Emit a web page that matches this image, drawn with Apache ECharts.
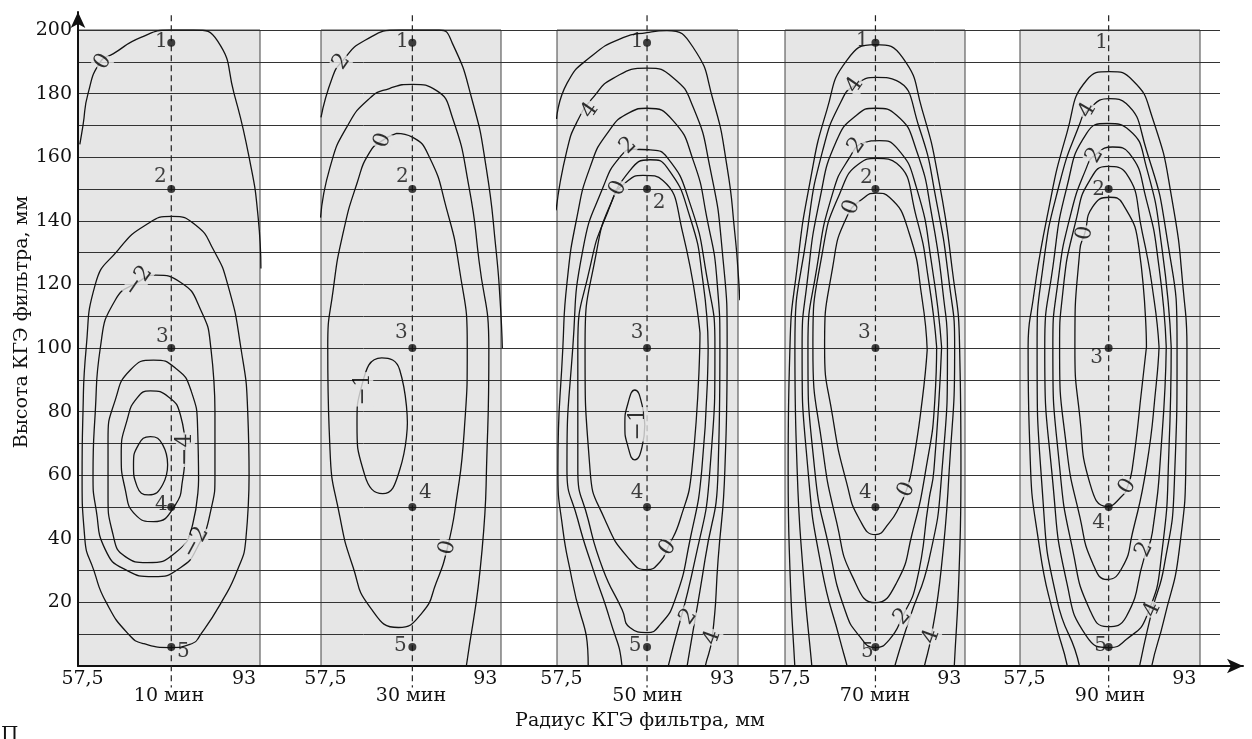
<!DOCTYPE html>
<html>
<head>
<meta charset="utf-8">
<script src="https://cdn.jsdelivr.net/npm/echarts@6.0.0/dist/echarts.min.js"></script>
<style>
html, body { margin: 0; padding: 0; background: #fff; }
#chart { width: 1252px; height: 739px; }
</style>
</head>
<body>
<div id="chart"></div>
<script>
var FONT = '"DejaVu Serif", "Liberation Serif", serif';
var INK = '#111';
var PANEL_FILL = '#e6e6e6';

// time of each panel
var panelTimes = ['10 мин', '30 мин', '50 мин', '70 мин', '90 мин'];
// radius ticks under each panel, mm
var radiusTicks = [57.5, 93];
// height ticks of the left axis, mm
var heightTicks = [20, 40, 60, 80, 100, 120, 140, 160, 180, 200];
// measuring points 1..5
var pointNames = ['1', '2', '3', '4', '5'];
var pointHeights = [196, 150, 100, 50, 6];
// radius of the measuring line in each panel, mm
var sampleRadius = [77.0, 76.8, 76.4, 76.6, 76.2];

// isolines, [radius, height]
var contours10 = [
  [[56.9,164],[57.6,170],[58.7,180],[61.4,190],[64.2,192.5],[70.2,197.6],[76.8,200],[81.9,200],[87.2,196.5],[90.8,180],[94.1,160],[96.1,141],[96.7,125]],
  [[94.1,60],[93.4,40],[91.5,30],[88.0,20],[83.5,10],[81.5,7],[76.8,5.8],[71.0,7],[67.6,10],[62.7,20],[60.0,30],[58.0,40],[57.4,60],[57.6,80],[58.3,100],[60.3,120],[65.3,130.8],[71.3,138.6],[77.1,141.4],[82.4,138.6],[86.3,130.8],[89.4,120],[92.3,100],[93.8,80],[94.1,60]],
  [[86.6,80],[86.6,60],[85.7,49],[82.8,37.5],[79.0,30.9],[73.1,28.1],[66.9,30.3],[62.5,36.6],[60.5,49],[59.8,60],[60.3,80],[61.4,100],[64.7,115.1],[69.8,120.8],[73.5,122.9],[79.0,120.7],[83.5,111.9],[85.7,100],[86.6,80]],
  [[83.0,58.6],[81.7,44.5],[77.9,35.6],[71.7,32.5],[66.9,34.4],[64.2,41.3],[63.1,53.8],[63.1,71.1],[64.7,83.7],[68.0,93.1],[73.1,96.2],[77.9,93.7],[81.3,86.8],[82.8,74.3],[83.0,58.6]],
  [[80.1,68],[79.5,58.6],[77.9,50.7],[73.1,45.4],[69.1,47.6],[66.9,55.4],[66.0,66.4],[67.3,77.4],[69.5,84.3],[72.4,86.5],[76.4,84.6],[79.0,79],[80.1,68]],
  [[76.2,63.3],[75.1,57],[72.0,53.8],[69.5,56.4],[68.7,63.3],[69.8,69.6],[72.4,72.1],[75.1,69.6],[76.2,63.3]]
];
var contours30 = [
  [[56.5,172.5],[59.0,185],[61.1,190],[66.2,196.7],[74.0,200],[82.8,200],[85.7,195.8],[90.1,177.9],[93.2,156.8],[95.4,130.8],[96.3,115],[96.8,100]],
  [[56.4,141],[58.5,156.8],[62.2,169.4],[67.3,178.5],[71.7,181.6],[76.8,182.9],[82.1,181],[85.7,172.5],[89.4,150.5],[91.6,127.6],[93.8,99.4],[93.4,68],[92.3,36.6],[88.8,0],[88.3,-3]],
  [[73.3,167.5],[76.8,166.3],[80.6,160],[84.3,144.3],[87.2,125.4],[89.0,100.3],[88.3,73.3],[86.6,52.3],[84.6,37.2],[82.1,26.2],[79.0,16.8],[73.7,12.1],[67.3,18.7],[63.6,31.2],[60.7,46.9],[58.5,68],[58.0,100.3],[59.2,118.2],[61.4,136.1],[64.5,151.8],[67.3,161.5],[70.2,165.3],[73.3,167.5]],
  [[75.7,76.5],[74.0,61.7],[70.2,54.2],[66.2,60.1],[64.5,76.5],[65.6,88.4],[70.0,96.9],[74.0,93.1],[75.7,76.5]]
];
var contours50 = [
  [[56.4,172],[58.7,183.2],[63.8,191.4],[71.1,197.6],[76.4,199.2],[80.8,199.8],[86.6,194.5],[91.0,177.9],[94.1,156.8],[95.8,136.1],[96.5,124.5],[96.9,115]],
  [[56.3,143.3],[58.7,162.2],[61.1,171.6],[64.5,178.8],[68.9,184.8],[76.4,188],[82.1,185.1],[86.6,175.7],[90.3,156.8],[93.0,130.8],[94.1,100.3],[93.6,61.7],[92.1,33.4],[90.8,9],[89.2,-0.5],[89.0,-3]],
  [[63.0,-3],[63.4,-0.5],[59.8,27.2],[57.8,42.9],[56.7,61.7],[57.8,100.3],[58.7,120.4],[60.9,141.1],[63.8,156.8],[67.6,167.5],[72.6,174.1],[76.4,175.4],[82.1,171.6],[86.6,159],[89.6,141.1],[91.9,120.4],[92.5,100.3],[92.1,61.7],[89.2,33.4],[85.2,-0.5],[85.0,-3]],
  [[71.0,-3],[70.9,-0.5],[68.2,14.6],[64.5,30.3],[61.1,46],[58.7,61.7],[60.0,100.3],[62.2,130.8],[66.7,150.6],[70.4,160],[73.5,162.5],[77.1,162.3],[80.8,160],[85.9,145.4],[89.6,122.5],[91.4,100.3],[90.3,61.7],[87.0,33.4],[81.0,-0.5],[80.7,-3]],
  [[89.9,100.3],[88.5,61.7],[85.9,39.7],[82.6,20.9],[79.3,13],[76.4,10.5],[72.6,12.1],[70.9,17.7],[66.7,30.3],[63.4,46],[61.1,61.7],[61.1,100.3],[63.8,125.4],[67.6,142.4],[72.6,155.8],[77.1,159.2],[80.8,156.8],[85.9,141.1],[88.8,120.4],[89.9,100.3]],
  [[88.1,104.7],[86.3,61.7],[83.7,46],[81.0,37.2],[79.3,32.8],[76.4,30.3],[72.6,33.4],[67.1,46],[63.8,61.7],[62.7,100.3],[65.3,130.8],[68.7,146.5],[71.5,151.8],[75.5,154.3],[79.9,152.7],[84.3,136.1],[88.1,104.7]],
  [[75.9,75.8],[75.3,68.9],[73.7,64.8],[72.2,68.9],[71.5,75.8],[72.2,82.7],[73.7,86.8],[75.3,82.1],[75.9,75.8]]
];
var contours70 = [
  [[58.9,-3],[58.7,-0.5],[57.6,30.3],[57.2,61.7],[57.6,100.3],[59.2,125.4],[62.0,151.8],[65.8,174.8],[70.2,190.4],[76.6,195.4],[82.6,191.4],[87.0,174.8],[90.8,151.8],[93.6,125.4],[95.3,100.3],[95.6,61.7],[95.2,30.3],[94.1,-0.5],[94.0,-3]],
  [[62.7,-3],[62.5,-0.5],[60.5,30.3],[59.2,61.7],[58.7,100.3],[61.4,136.1],[64.9,162.2],[69.1,177.9],[72.0,182.6],[76.8,185.1],[81.3,184.1],[86.3,169.4],[90.1,146.5],[93.0,120.4],[94.2,100.3],[93.0,61.7],[91.2,30.3],[89.0,9.3],[87.4,-0.5],[87.0,-3]],
  [[70.8,-3],[70.4,-0.5],[68.7,8.3],[64.7,30.3],[61.6,61.7],[60.3,100.3],[61.4,120.4],[64.2,146.5],[68.0,165.3],[72.4,173.2],[76.6,175.4],[81.3,173.2],[85.7,162.2],[89.2,141.1],[91.8,115.1],[92.6,100.3],[91.4,61.7],[88.5,33.4],[84.1,14.6],[80.8,-0.5],[80.5,-3]],
  [[91.3,100.3],[89.6,61.7],[88.5,52.3],[85.7,26.2],[82.6,15.5],[79.7,8.3],[76.6,5.8],[73.1,9.3],[69.8,17.7],[66.4,36.6],[63.1,61.7],[61.6,100.3],[63.6,125.4],[67.1,148.7],[70.9,160],[74.0,164.5],[77.5,165.2],[81.3,163],[85.7,150.5],[89.2,125.4],[91.3,100.3]],
  [[90.2,100.3],[89.8,83.7],[87.9,62.6],[84.8,41.9],[81.3,26.2],[76.6,19.9],[71.5,28.1],[68.0,45.1],[64.9,68],[62.7,100.3],[64.9,130.8],[68.7,148.7],[73.1,158.1],[76.8,159.6],[81.3,158.1],[85.7,141.1],[88.5,120.4],[90.2,100.3]],
  [[88.1,99.4],[87.0,83.7],[84.8,62.6],[83.5,55.4],[81.9,50.1],[79.7,45.1],[76.6,41.3],[73.1,46],[70.2,57.6],[67.1,78.3],[65.3,100.3],[67.1,125.4],[70.2,141.1],[74.2,147.4],[76.8,148.7],[79.7,147.4],[84.1,136.1],[87.0,115.1],[88.1,99.4]]
];
var contours90 = [
  [[67.3,-3],[67.1,-0.5],[64.2,14.6],[60.9,36.6],[58.7,68],[58.3,100.3],[59.4,115.1],[62.5,141.1],[66.9,167.5],[71.3,184.2],[76.4,186.9],[81.5,184.2],[85.9,172.5],[90.3,146.5],[93.0,115.1],[93.6,100.3],[93.4,68],[91.9,36.6],[88.5,14.6],[85.7,-0.5],[85.5,-3]],
  [[70.0,-3],[69.8,-0.5],[64.7,20.9],[61.6,52.3],[60.3,100.3],[61.6,125.4],[65.3,151.8],[69.8,170.6],[71.5,174.7],[76.4,178.4],[80.1,176.9],[84.6,162.2],[89.0,136.1],[91.4,100.3],[90.8,57.6],[88.5,31.2],[85.9,17.7],[83.0,-0.5],[82.8,-3]],
  [[90.1,100.3],[89.6,68],[88.1,36.6],[84.6,15.5],[80.1,8.3],[76.4,5.8],[71.3,9.3],[66.9,26.2],[63.8,57.6],[62.0,100.3],[63.8,125.4],[66.9,150.5],[71.3,167.5],[75.9,170.6],[80.8,168.5],[84.6,156.8],[88.1,130.8],[90.1,100.3]],
  [[89.0,100.3],[88.1,73.3],[85.9,41.9],[84.1,34],[80.1,15.5],[75.9,12.4],[72.0,17.7],[68.2,36.6],[65.3,62.6],[63.8,100.3],[64.9,120.4],[67.6,141.1],[71.3,156.8],[73.1,160.6],[77.1,163.2],[80.8,161.2],[84.6,146.5],[87.4,125.4],[89.0,100.3]],
  [[87.4,100.3],[86.8,89],[84.6,62.6],[81.5,41.9],[79.3,31.2],[75.9,27.2],[72.6,32.5],[69.8,46.9],[66.9,68],[65.3,100.3],[66.0,117.3],[69.1,141.1],[72.0,152.7],[75.9,157.1],[80.1,154.9],[83.7,136.1],[86.3,115.1],[87.4,100.3]],
  [[84.6,100.3],[83.7,89],[81.5,62.6],[80.4,56.4],[79.0,53.2],[75.9,50.2],[72.0,57.6],[69.8,78.3],[68.7,100.3],[69.8,130.8],[70.9,136.1],[72.6,144.3],[76.4,147.4],[79.3,145.4],[83.0,130.8],[84.6,100.3]]
];

// isoline values written on the curves: [text, radius, height]
var labels10 = [['0', 62.0, 190], ['\u22122', 69.8, 121], ['\u22124', 80.1, 68], ['\u22122', 82.4, 38.8]];
var labels30 = [['2', 61.1, 190], ['0', 70.2, 165.3], ['\u22121', 66.0, 87], ['0', 84.6, 37.2]];
var labels50 = [['4', 63.8, 174.7], ['2', 72.2, 163.7], ['0', 70.0, 150.2], ['\u22121', 74.5, 76], ['0', 81.0, 37.2], ['2', 85.5, 15.5], ['4', 90.8, 9]];
var labels70 = [['4', 72.0, 182.6], ['2', 72.4, 163.7], ['0', 71.3, 144.3], ['0', 83.5, 55.4], ['2', 82.6, 15.5], ['4', 89.0, 9.3]];
var labels90 = [['4', 71.5, 174.7], ['2', 73.1, 160.6], ['0', 70.9, 136.1], ['0', 80.4, 56.4], ['2', 84.1, 36.6], ['4', 85.9, 17.7]];

// ---- layout / style (not data) ----
var panelLeft = [78, 321, 557, 785, 1020];
var panelWidth = [182, 180, 181, 180, 180];
var labelAngles = [
  [57, 55, 90, 62],
  [55, 70, 90, 75],
  [55, 45, 65, 90, 55, 55, 70],
  [55, 55, 70, 65, 50, 70],
  [60, 60, 80, 60, 65, 65]
];
var pointLabelOffsets = [
  [[-10, -1], [-11, -12], [-9, -11], [-10, -2], [12, 5]],
  [[-10, -1], [-10, -12], [-11, -15], [13, -14], [-12, -1]],
  [[-10, -1], [12, 14], [-10, -15], [-10, -14], [-12, -1]],
  [[-13, -2], [-9, -11], [-11, -15], [-10, -14], [-8, 5]],
  [[-7, 0], [-10, 1], [-12, 10], [-10, 16], [-8, -1]]
];
var dotShown = [
  [1, 1, 1, 1, 1], [1, 1, 1, 1, 1], [1, 1, 1, 1, 1], [1, 1, 1, 1, 1], [0, 1, 1, 1, 1]
];

var allContours = [contours10, contours30, contours50, contours70, contours90];
var allLabels = [labels10, labels30, labels50, labels70, labels90];

var chart = echarts.init(document.getElementById('chart'));

var grids = [
  {left: 78, right: 32, top: 30, bottom: 73},   // horizontal lines and height labels
  {left: 78, right: 9, top: 12, bottom: 73}     // axes with arrows
];
var xAxes = [
  {gridIndex: 0, type: 'value', min: 0, max: 1, show: false},
  {gridIndex: 1, type: 'value', min: 0, max: 1,
    axisLine: {show: true, symbol: ['none', 'arrow'], symbolSize: [11, 16], lineStyle: {color: '#111', width: 2}},
    axisTick: {show: false}, axisLabel: {show: false}, splitLine: {show: false}}
];
var yAxes = [
  {gridIndex: 0, type: 'value', min: 0, max: 200, interval: 10,
    axisLine: {show: false}, axisTick: {show: false},
    axisLabel: {
      margin: 6, fontFamily: FONT, fontSize: 19, color: INK,
      formatter: function(v) { return heightTicks.indexOf(v) >= 0 ? String(v) : ''; }
    },
    splitLine: {show: true, lineStyle: {color: '#333', width: 1}}},
  {gridIndex: 1, type: 'value', min: 0, max: 1,
    axisLine: {show: true, onZero: false, symbol: ['none', 'arrow'], symbolSize: [11, 16], lineStyle: {color: '#111', width: 2}},
    axisTick: {show: false}, axisLabel: {show: false}, splitLine: {show: false}}
];
var series = [];

panelLeft.forEach(function(left, i) {
  var gi = i + 2;
  grids.push({left: left, width: panelWidth[i], top: 30, bottom: 73, show: true,
    backgroundColor: PANEL_FILL, borderColor: '#444', borderWidth: 1});
  xAxes.push({
    gridIndex: gi, type: 'value', min: 56.5, max: 96.5,
    axisLine: {show: false}, axisTick: {show: false}, splitLine: {show: false},
    axisLabel: {
      customValues: radiusTicks, margin: 4, fontFamily: FONT, fontSize: 19, color: INK,
      formatter: function(v) { return String(v).replace('.', ','); }
    },
    name: panelTimes[i], nameLocation: 'middle', nameGap: 21, nameMoveOverlap: false,
    nameTextStyle: {fontFamily: FONT, fontSize: 19, color: INK}
  });
  yAxes.push({gridIndex: gi, type: 'value', min: 0, max: 200, show: false});

  // isolines
  allContours[i].forEach(function(c) {
    series.push({
      type: 'line', xAxisIndex: gi, yAxisIndex: gi, data: c,
      smooth: 0.55, showSymbol: false, symbol: 'none', silent: true, z: 2,
      lineStyle: {color: '#141414', width: 1.3}
    });
  });

  // measuring line
  series.push({
    type: 'line', xAxisIndex: gi, yAxisIndex: gi, clip: false, silent: true, z: 3,
    data: [[sampleRadius[i], 204.6], [sampleRadius[i], -6.8]],
    symbol: 'none', lineStyle: {color: '#222', width: 1.2, type: [6, 4]}
  });

  // values written on the isolines
  series.push({
    type: 'scatter', xAxisIndex: gi, yAxisIndex: gi, symbolSize: 2, silent: true, z: 5,
    itemStyle: {color: 'rgba(0,0,0,0)'},
    label: {
      show: true, position: 'inside', formatter: '{b}',
      fontFamily: FONT, fontSize: 22, color: '#000', textBorderWidth: 0,
      backgroundColor: PANEL_FILL, padding: [0, 1], lineHeight: 19
    },
    data: allLabels[i].map(function(l, k) {
      return {name: l[0], value: [l[1], l[2]], label: {rotate: labelAngles[i][k]}};
    })
  });

  // measuring points 1..5
  series.push({
    type: 'scatter', xAxisIndex: gi, yAxisIndex: gi, silent: true, z: 6,
    symbol: 'circle', itemStyle: {color: '#111'},
    label: {show: true, position: 'inside', formatter: '{b}', fontFamily: FONT, fontSize: 20, color: INK, textBorderWidth: 0},
    data: pointHeights.map(function(h, k) {
      return {
        name: pointNames[k], value: [sampleRadius[i], h],
        symbolSize: dotShown[i][k] ? 8 : 0,
        label: {offset: pointLabelOffsets[i][k]}
      };
    })
  });
});

chart.setOption({
  animation: false,
  backgroundColor: '#fff',
  grid: grids,
  xAxis: xAxes,
  yAxis: yAxes,
  series: series,
  graphic: [
    {type: 'text', x: 22, y: 322, rotation: Math.PI / 2, silent: true,
      style: {text: 'Высота КГЭ фильтра, мм', fontFamily: FONT, fontSize: 19, fill: INK,
        align: 'center', verticalAlign: 'middle', textAlign: 'center', textVerticalAlign: 'middle'}},
    {type: 'text', x: 640, y: 721, silent: true,
      style: {text: 'Радиус КГЭ фильтра, мм', fontFamily: FONT, fontSize: 19, fill: INK,
        align: 'center', verticalAlign: 'middle', textAlign: 'center', textVerticalAlign: 'middle'}},
    {type: 'text', x: 1, y: 726, silent: true,
      style: {text: 'П', fontFamily: FONT, fontSize: 20, fill: INK}}
  ]
});
</script>
</body>
</html>
